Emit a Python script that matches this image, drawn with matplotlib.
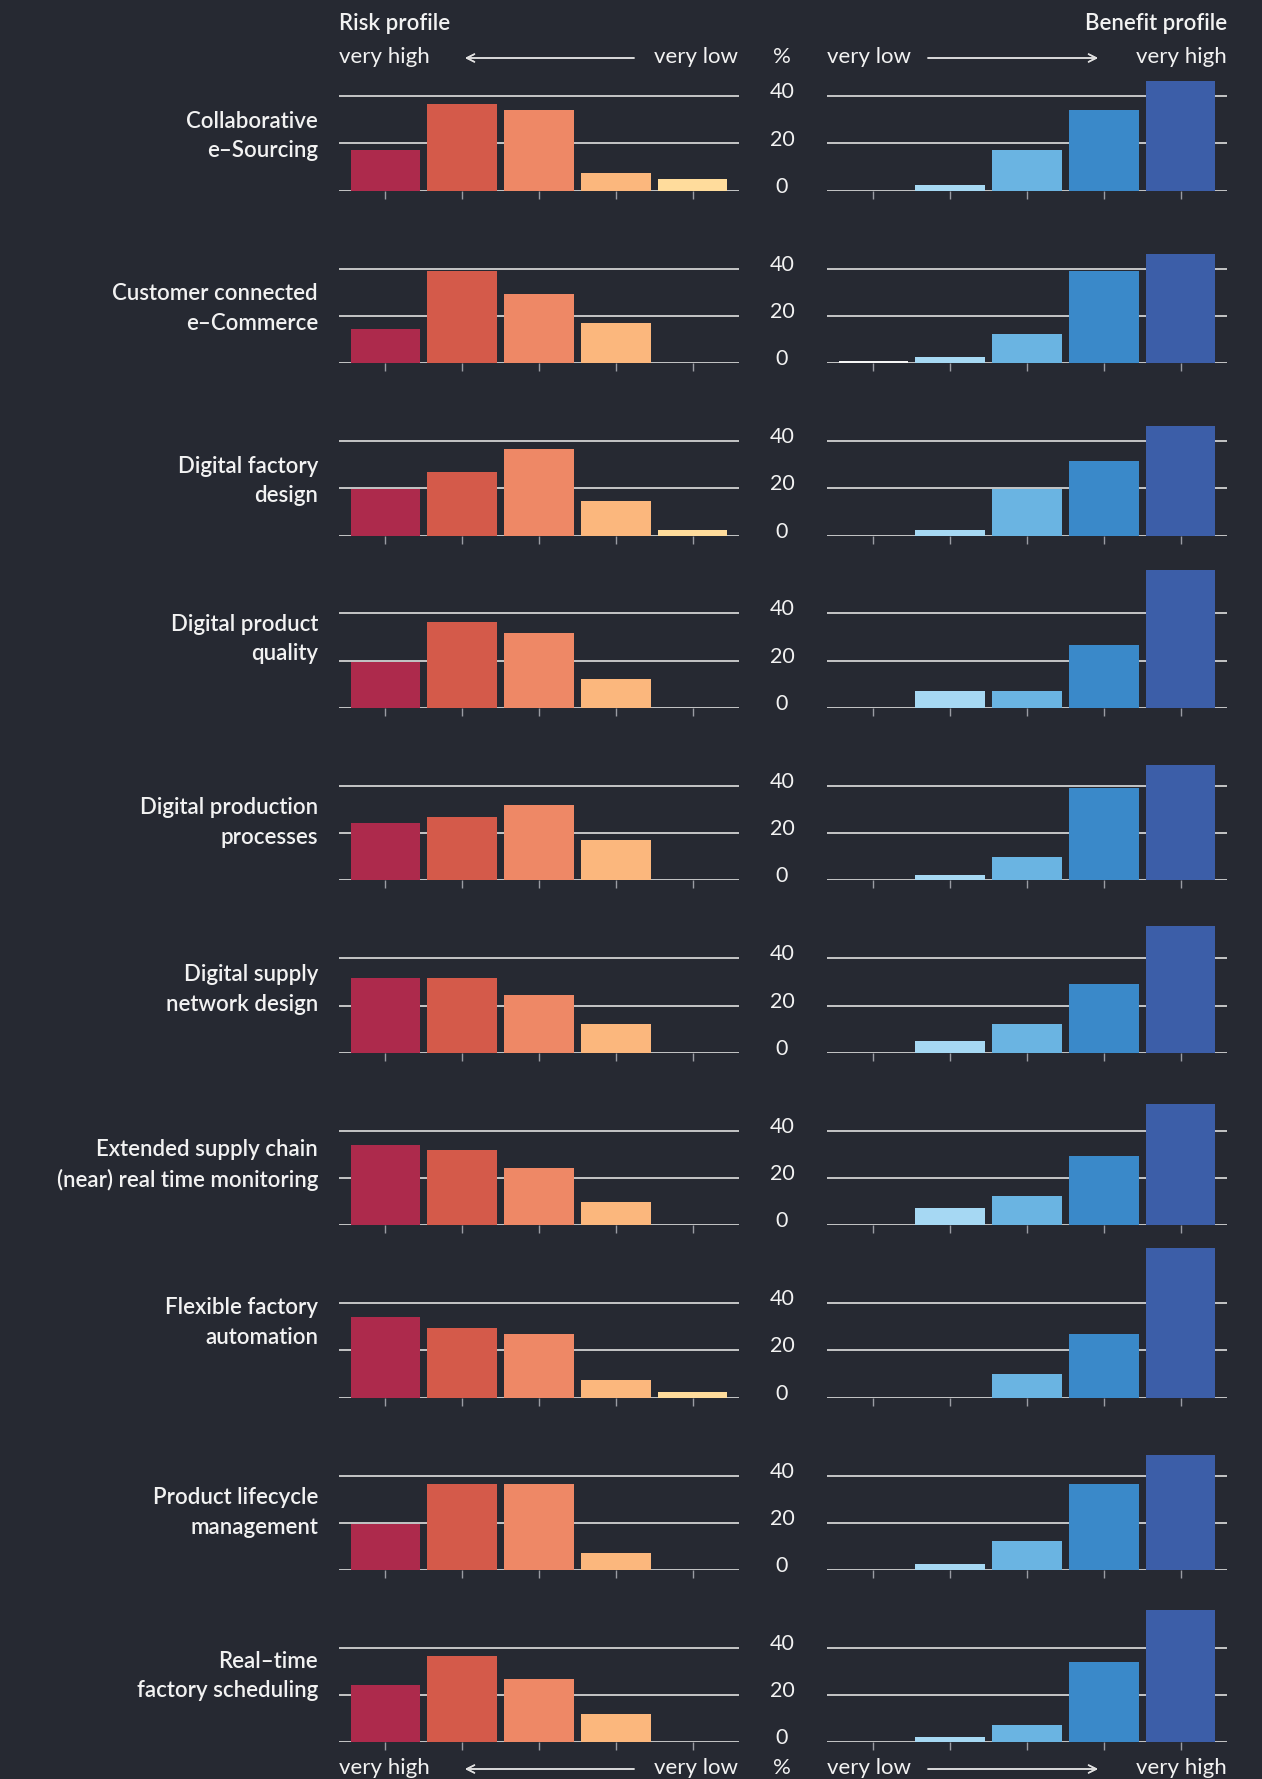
import numpy as np
import matplotlib.pyplot as plt
from matplotlib.transforms import blended_transform_factory

# ---- data (percent of respondents) ----
labels = ["Collaborative\ne\u2013Sourcing",
          "Customer connected\ne\u2013Commerce",
          "Digital factory\ndesign",
          "Digital product\nquality",
          "Digital production\nprocesses",
          "Digital supply\nnetwork design",
          "Extended supply chain\n(near) real time monitoring",
          "Flexible factory\nautomation",
          "Product lifecycle\nmanagement",
          "Real\u2013time\nfactory scheduling"]

# risk: very high -> very low
risk = [[17.1, 36.6, 34.1, 7.3, 4.9],
        [14.6, 39.0, 29.3, 17.1, 0.0],
        [19.5, 26.8, 36.6, 14.6, 2.4],
        [19.5, 36.6, 31.7, 12.2, 0.0],
        [24.4, 26.8, 31.7, 17.1, 0.0],
        [31.7, 31.7, 24.4, 12.2, 0.0],
        [34.1, 31.7, 24.4, 9.8, 0.0],
        [34.1, 29.3, 26.8, 7.3, 2.4],
        [19.5, 36.6, 36.6, 7.3, 0.0],
        [24.4, 36.6, 26.8, 12.2, 0.0]]

# benefit: very low -> very high
benefit = [[0.0, 2.4, 17.1, 34.1, 46.3],
           [0.8, 2.4, 12.2, 39.0, 46.3],
           [0.0, 2.4, 19.5, 31.7, 46.3],
           [0.0, 7.3, 7.3, 26.8, 58.5],
           [0.0, 2.4, 9.8, 39.0, 48.8],
           [0.0, 4.9, 12.2, 29.3, 53.7],
           [0.0, 7.3, 12.2, 29.3, 51.2],
           [0.0, 0.0, 9.8, 26.8, 63.4],
           [0.0, 2.4, 12.2, 36.6, 48.8],
           [0.0, 2.4, 7.3, 34.1, 56.1]]

grid_vals = [0, 20, 40]

risk_colors = ["#ad2a4c", "#d45a4a", "#ee8866", "#fbb77d", "#ffdc9c"]
benefit_colors = ["#f5f5f5", "#a6d8f3", "#6ab4e2", "#3a89c9", "#3c5ea8"]

BG = "#262932"
FG = "#f2f2f2"
GRID = "#e0e0e0"

W, H = 1262, 1779
plt.rcParams['font.family'] = ['Lato', 'DejaVu Sans']

fig = plt.figure(figsize=(W / 100, H / 100), dpi=100)
fig.patch.set_facecolor(BG)


def fx(x):
    return x / W


def fy(y):
    return 1 - y / H


px_per_unit = 2.36
ymax = 66
ax_h = ymax * px_per_unit
left_x0, right_x0, ax_w = 339, 827, 400
base0, row_step = 190.7, 172.4
xpos = np.arange(5)

for i, lab in enumerate(labels):
    base = base0 + row_step * i
    for x0, vals, cols in [(left_x0, risk[i], risk_colors),
                           (right_x0, benefit[i], benefit_colors)]:
        ax = fig.add_axes([fx(x0), fy(base), ax_w / W, ax_h / H])
        ax.set_facecolor("none")
        ax.set_xlim(-0.6, 4.6)
        ax.set_ylim(0, ymax)
        for g in grid_vals:
            ax.axhline(g, color=GRID, lw=1.2, zorder=1)
        ax.bar(xpos, vals, width=0.9, color=cols, zorder=2)
        for s in ax.spines.values():
            s.set_visible(False)
        ax.set_yticks([])
        ax.set_xticks(xpos)
        ax.set_xticklabels([])
        ax.tick_params(axis='x', direction='out', length=6, width=1,
                       color="#9a9ca3")
        tr = blended_transform_factory(fig.transFigure, ax.transData)
        if x0 == right_x0:
            for g in grid_vals:
                ax.annotate(str(g), xy=(fx(782), g), xycoords=tr,
                            xytext=(0, 4), textcoords='offset pixels',
                            ha='center', va='center', fontsize=15.5,
                            color=FG)
        else:
            ymid = max(max(risk[i]), max(benefit[i])) / 2
            ax.text(fx(318), ymid, lab, transform=tr, ha='right', va='center',
                    fontsize=16, color=FG, fontweight='semibold',
                    linespacing=1.5)


def scale_row(y):
    # "very high <---- very low  %  very low ----> very high"
    kw = dict(va='center', fontsize=16, color=FG)
    fig.text(fx(339), fy(y), "very high", ha='left', **kw)
    fig.text(fx(738), fy(y), "very low", ha='right', **kw)
    fig.text(fx(782), fy(y), "%", ha='center', **kw)
    fig.text(fx(827), fy(y), "very low", ha='left', **kw)
    fig.text(fx(1227), fy(y), "very high", ha='right', **kw)
    ap = dict(arrowstyle='->', color=GRID, lw=1.1, mutation_scale=14,
              shrinkA=0, shrinkB=0)
    fig.add_artist(plt.annotate("", xy=(fx(465), fy(y + 1)),
                                xytext=(fx(634), fy(y + 1)),
                                xycoords='figure fraction', arrowprops=ap))
    fig.add_artist(plt.annotate("", xy=(fx(1098), fy(y + 1)),
                                xytext=(fx(928), fy(y + 1)),
                                xycoords='figure fraction', arrowprops=ap))


fig.text(fx(339), fy(23), "Risk profile", ha='left', va='center',
         fontsize=16, color=FG, fontweight='semibold')
fig.text(fx(1227), fy(23), "Benefit profile", ha='right', va='center',
         fontsize=16, color=FG, fontweight='semibold')
scale_row(57)
scale_row(1768)

fig.savefig("out.png", dpi=100, facecolor=BG)
